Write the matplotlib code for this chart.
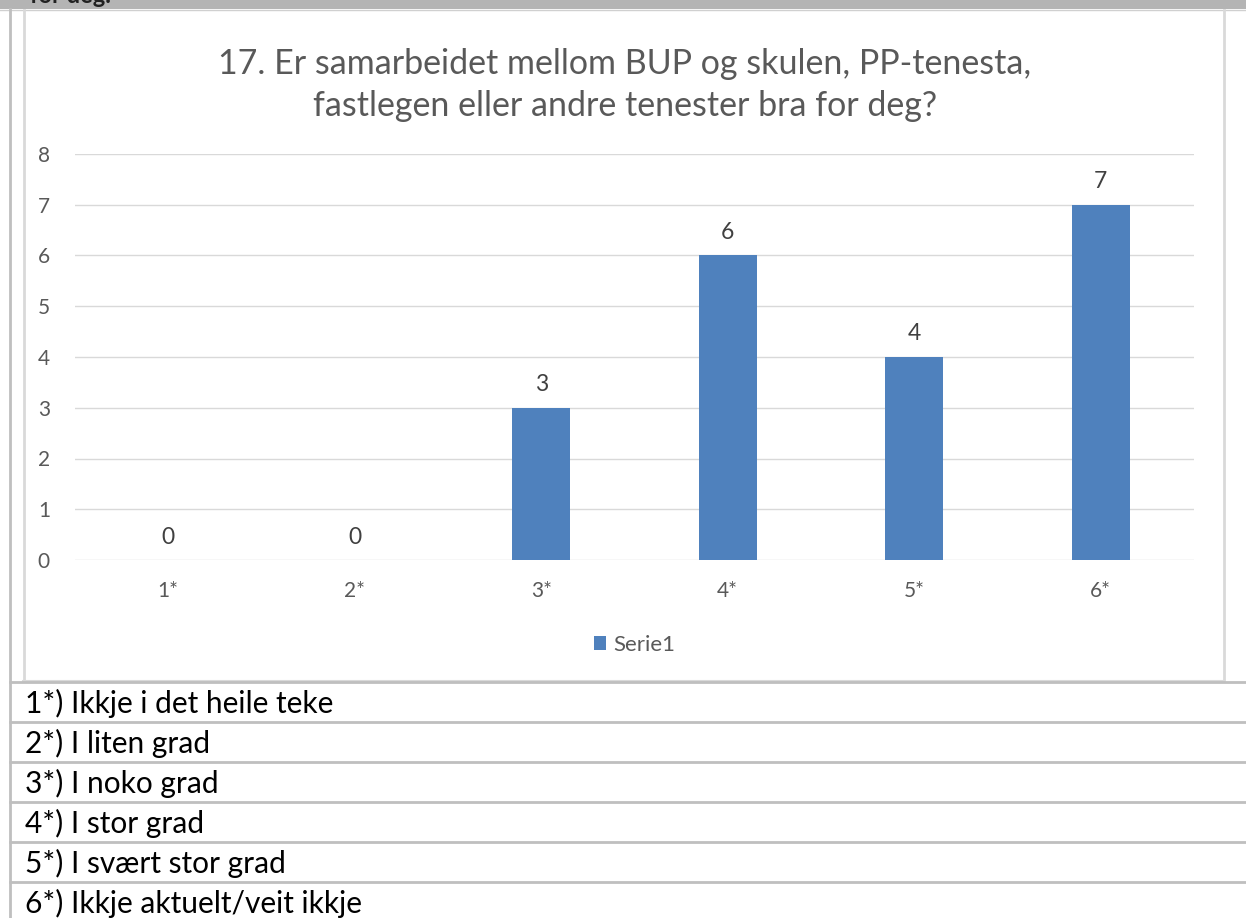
import matplotlib
matplotlib.use("Agg")
import matplotlib.pyplot as plt
from matplotlib.patches import Rectangle

plt.rcParams['font.family'] = ['Lato', 'DejaVu Sans']

categories = ['1*', '2*', '3*', '4*', '5*', '6*']
values = [0, 0, 3, 6, 4, 7]
series_name = 'Serie1'
title = '17. Er samarbeidet mellom BUP og skulen, PP-tenesta,\nfastlegen eller andre tenester bra for deg?'
notes = ['1*) Ikkje i det heile teke',
         '2*) I liten grad',
         '3*) I noko grad',
         '4*) I stor grad',
         '5*) I svært stor grad',
         '6*) Ikkje aktuelt/veit ikkje']

W, H = 1246, 918
fig = plt.figure(figsize=(W / 100, H / 100), dpi=100)

# page frame / table drawn in pixel coords
bg = fig.add_axes([0, 0, 1, 1])
bg.set_xlim(0, W)
bg.set_ylim(H, 0)
bg.axis('off')
bg.add_patch(Rectangle((0, 0), W, 9, color='#b4b4b4', lw=0, zorder=1))
# heading from the page above, mostly scrolled out of view
bg.text(30, 3, 'for deg.', fontsize=17, fontweight='bold', color='#222222',
        va='baseline', zorder=2)
bg.add_patch(Rectangle((0, 9), W, H, color='white', lw=0, zorder=3))
bg.plot([0, W], [9.5, 9.5], color='#d0d0d0', lw=1, zorder=4)
bg.plot([10, 10], [9, H], color='#bfbfbf', lw=2, zorder=4)
bg.plot([23.5, 23.5], [10, 681], color='#d9d9d9', lw=2, zorder=4)
bg.plot([1224, 1224], [10, 681], color='#d9d9d9', lw=2, zorder=4)
bg.plot([23, 1224], [680.5, 680.5], color='#d9d9d9', lw=1.5, zorder=4)
for i, note in enumerate(notes):
    y = 682 + 40 * i
    bg.plot([10, W], [y, y], color='#bfbfbf', lw=2, zorder=4)
    bg.text(25, y + 21, note, fontsize=21.5, color='black', va='center',
            ha='left', zorder=5)

bg.text(625, 85, title, fontsize=24.5, color='#595959', ha='center', va='center',
        linespacing=1.38, zorder=5)

# chart
ax = fig.add_axes([75 / W, (H - 560) / H, 1119 / W, 406 / H])
ax.patch.set_alpha(0)
x = range(len(categories))
bars = ax.bar(x, values, width=0.31, color='#4f81bd', label=series_name, zorder=2)
for xi, v in zip(x, values):
    ax.annotate(str(v), (xi, v), xytext=(0, 9), textcoords='offset points',
                ha='center', va='bottom', fontsize=16.5, color='#404040')
ax.set_xlim(-0.5, len(categories) - 0.5)
ax.set_ylim(0, 8)
ax.set_yticks(range(0, 9))
ax.set_xticks(list(x))
ax.set_xticklabels(categories)
ax.grid(axis='y', color='#d9d9d9', lw=1, zorder=0)
for s in ax.spines.values():
    s.set_visible(False)
ax.tick_params(length=0, labelsize=15, labelcolor='#595959')
ax.tick_params(axis='y', pad=18)
ax.tick_params(axis='x', pad=15)

leg = ax.legend(loc='upper center', bbox_to_anchor=(0.5, -0.135), frameon=False,
                fontsize=16, handlelength=0.55, handleheight=0.55, handletextpad=0.35)
for t in leg.get_texts():
    t.set_color('#595959')

fig.savefig('out.png', dpi=100)
